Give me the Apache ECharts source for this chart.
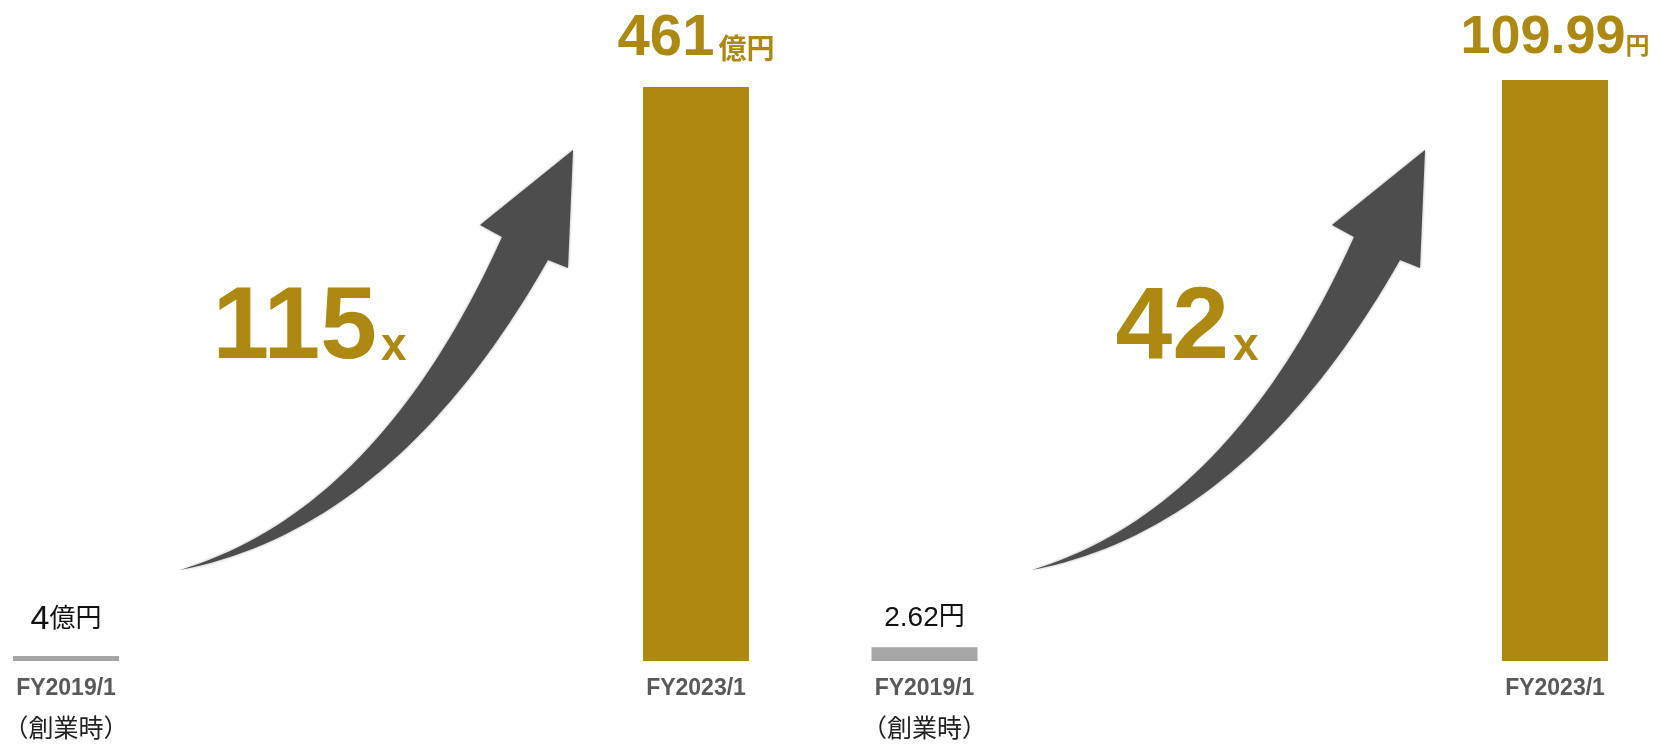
<!DOCTYPE html>
<html>
<head>
<meta charset="utf-8">
<script src="https://cdn.jsdelivr.net/npm/echarts@6/dist/echarts.min.js"></script>
<style>
  html, body { margin: 0; padding: 0; background: #fff; }
  #main { width: 1668px; height: 744px; }
</style>
</head>
<body>
<div id="main"></div>
<script>
// 売上高（億円）と EPS（円）
var categories = ['FY2019/1', 'FY2023/1'];
var subLabels = ['（創業時）', ''];
var revenue = [4, 461];
var eps = [2.62, 109.99];
var multiples = ['115', '42'];

var GOLD = '#AE8912';
var GRAY = '#A6A6A6';
var FONT = 'Arial, "Liberation Sans", "Noto Sans CJK JP", sans-serif';

var myChart = echarts.init(document.getElementById('main'));

// 矢印（装飾）: 二次ベジェを折れ線にして多角形で描く
function quad(p0, c, p2, n) {
    var pts = [];
    for (var i = 0; i <= n; i++) {
        var t = i / n, u = 1 - t;
        pts.push([u * u * p0[0] + 2 * u * t * c[0] + t * t * p2[0],
                  u * u * p0[1] + 2 * u * t * c[1] + t * t * p2[1]]);
    }
    return pts;
}
function arrowPoints(dx) {
    var upper = quad([180, 570], [379, 510], [502, 237], 40);
    var head = [[480, 225], [573, 150], [568, 268], [548, 260]];
    var lower = quad([548, 260], [396, 528], [180, 570], 40).slice(1);
    return upper.concat(head, lower).map(function (p) { return [p[0] + dx, p[1]]; });
}

function itemData(values) {
    return values.map(function (v, i) {
        return { value: v, itemStyle: { color: i === 0 ? GRAY : GOLD } };
    });
}

function xAxisOf(idx) {
    return {
        type: 'category',
        gridIndex: idx,
        data: categories,
        boundaryGap: false,
        axisLine: { show: false },
        axisTick: { show: false },
        axisLabel: {
            interval: 0,
            margin: 8,
            formatter: function (v, i) {
                return subLabels[i] ? '{a|' + v + '}\n{b|' + subLabels[i] + '}' : '{a|' + v + '}';
            },
            rich: {
                a: { fontSize: 23, fontWeight: 'bold', color: '#595959', lineHeight: 40, fontFamily: FONT },
                b: { fontSize: 25, color: '#222', lineHeight: 42, fontFamily: FONT }
            }
        }
    };
}

var option = {
    backgroundColor: '#fff',
    animation: false,
    grid: [
        { left: 66, width: 630, top: 87, bottom: 83 },
        { left: 924.5, width: 630.5, top: 80, bottom: 83 }
    ],
    xAxis: [xAxisOf(0), xAxisOf(1)],
    yAxis: [
        { type: 'value', gridIndex: 0, min: 0, max: 'dataMax', show: false, splitLine: { show: false } },
        { type: 'value', gridIndex: 1, min: 0, max: 'dataMax', show: false, splitLine: { show: false } }
    ],
    series: [
        {
            type: 'bar',
            xAxisIndex: 0,
            yAxisIndex: 0,
            barWidth: 106,
            clip: false,
            data: itemData(revenue),
            label: {
                show: true,
                position: 'top',
                distance: 19,
                formatter: function (p) {
                    return p.dataIndex === 0
                        ? '{n|' + p.value + '}{u|億円}'
                        : '{bn|' + p.value + '}{bu|億円}';
                },
                rich: {
                    n: { fontSize: 34, color: '#111', fontFamily: FONT },
                    u: { fontSize: 26, color: '#111', fontFamily: FONT, verticalAlign: 'bottom', padding: [0, 0, 4, 0] },
                    bn: { fontSize: 58, fontWeight: 'bold', color: GOLD, fontFamily: FONT },
                    bu: { fontSize: 28, fontWeight: 'bold', color: GOLD, fontFamily: FONT, verticalAlign: 'bottom', padding: [0, 0, 3, 4] }
                }
            }
        },
        {
            type: 'bar',
            xAxisIndex: 1,
            yAxisIndex: 1,
            barWidth: 106,
            clip: false,
            data: itemData(eps),
            label: {
                show: true,
                position: 'top',
                distance: 15,
                formatter: function (p) {
                    return p.dataIndex === 0
                        ? '{n|' + p.value + '}{u|円}'
                        : '{bn|' + p.value + '}{bu|円}';
                },
                rich: {
                    n: { fontSize: 28, color: '#111', fontFamily: FONT },
                    u: { fontSize: 26, color: '#111', fontFamily: FONT, verticalAlign: 'bottom', padding: [0, 0, 1, 0] },
                    bn: { fontSize: 54, fontWeight: 'bold', color: GOLD, fontFamily: FONT },
                    bu: { fontSize: 24, fontWeight: 'bold', color: GOLD, fontFamily: FONT, verticalAlign: 'bottom', padding: [0, 0, 6, 0] }
                }
            }
        }
    ],
    graphic: [
        { type: 'polygon', shape: { points: arrowPoints(0) }, style: { fill: '#4D4D4D', shadowBlur: 3, shadowColor: 'rgba(0,0,0,0.35)' } },
        { type: 'polygon', shape: { points: arrowPoints(852) }, style: { fill: '#4D4D4D', shadowBlur: 3, shadowColor: 'rgba(0,0,0,0.35)' } },
        { type: 'text', x: 377, y: 330, style: { text: multiples[0], fill: GOLD, font: 'bold 102px ' + FONT, align: 'right', verticalAlign: 'middle' } },
        { type: 'text', x: 381, y: 347, style: { text: 'x', fill: GOLD, font: 'bold 46px ' + FONT, align: 'left', verticalAlign: 'middle' } },
        { type: 'text', x: 1229, y: 330, style: { text: multiples[1], fill: GOLD, font: 'bold 102px ' + FONT, align: 'right', verticalAlign: 'middle' } },
        { type: 'text', x: 1233, y: 347, style: { text: 'x', fill: GOLD, font: 'bold 46px ' + FONT, align: 'left', verticalAlign: 'middle' } }
    ]
};

myChart.setOption(option);
</script>
</body>
</html>
